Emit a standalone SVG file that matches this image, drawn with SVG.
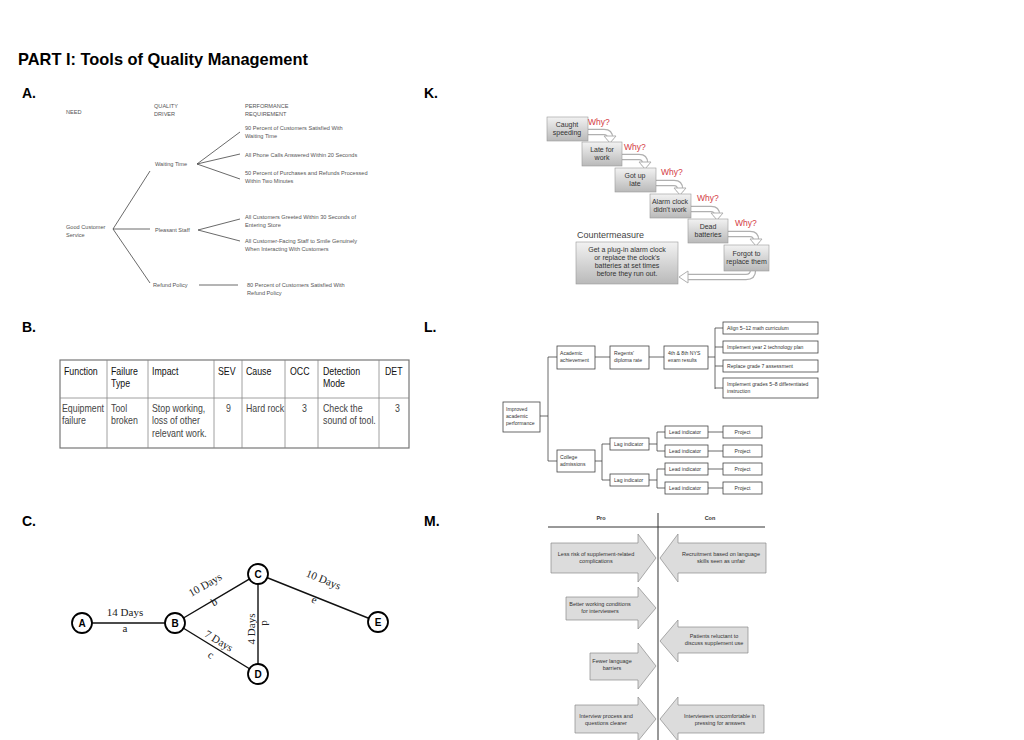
<svg xmlns="http://www.w3.org/2000/svg" width="1024" height="740" viewBox="0 0 1024 740">
<style>
.ttl{font-family:"Liberation Sans",Arial,sans-serif;font-weight:bold;fill:#000}
.sa{font-family:"Liberation Sans",Arial,sans-serif;font-size:5.6px;fill:#555}
.ln{fill:none;stroke:#444;stroke-width:0.8}
.kb{fill:url(#gb);stroke:#999;stroke-width:0.6}
.kt{font-family:"Liberation Sans",Arial,sans-serif;font-size:7px;fill:#333;text-anchor:middle}
.why{font-family:"Liberation Sans",Arial,sans-serif;font-size:8.5px;fill:#d33a3f}
.ao{fill:none;stroke:#b0b0b0;stroke-width:6.5}
.ai{fill:none;stroke:#fff;stroke-width:4}
.ah{fill:#fff;stroke:#b0b0b0;stroke-width:1}
.tb{font-family:"Liberation Sans",Arial,sans-serif;font-size:11px}
.th{fill:#111}
.td{fill:#444}
.lb{fill:#fff;stroke:#444;stroke-width:0.8}
.lt{font-family:"Liberation Sans",Arial,sans-serif;font-size:5.1px;fill:#333}
.ltc{text-anchor:middle}
.cn{fill:#fff;stroke:#000;stroke-width:1.8}
.cl{font-family:"Liberation Sans",Arial,sans-serif;font-weight:bold;font-size:10px;text-anchor:middle;fill:#000}
.cs{font-family:"Liberation Serif","Times New Roman",serif;font-size:11px;fill:#222;text-anchor:middle}
.ce{stroke:#111;stroke-width:1.4;fill:none}
.ma{fill:#dcdcdc;stroke:#8a8a8a;stroke-width:0.7}
.mt{font-family:"Liberation Sans",Arial,sans-serif;font-size:5.5px;fill:#333;text-anchor:middle}
.mh{font-family:"Liberation Sans",Arial,sans-serif;font-size:5.5px;font-weight:bold;fill:#333;text-anchor:middle}
</style>
<defs>
<linearGradient id="gb" x1="0" y1="0" x2="0" y2="1">
<stop offset="0" stop-color="#f2f2f2"/>
<stop offset="1" stop-color="#b9b9b9"/>
</linearGradient>
</defs>
<rect width="1024" height="740" fill="#fff"/>

<text class="ttl" x="18" y="65" font-size="16.4">PART I: Tools of Quality Management</text>
<text class="ttl" x="22" y="98" font-size="14">A.</text>
<text class="ttl" x="424" y="98" font-size="14">K.</text>
<text class="ttl" x="22" y="332" font-size="14">B.</text>
<text class="ttl" x="424" y="332" font-size="14">L.</text>
<text class="ttl" x="22" y="526" font-size="14">C.</text>
<text class="ttl" x="424" y="526" font-size="14">M.</text>

<!-- A: tree -->
<g id="A-connectors">
<path class="ln" d="M113,229 L150,171 M113,229 L150,229 M113,229 L150,283"/>
<path class="ln" d="M197,164 L240,132 M197,164 L240,154 M197,164 L240,179"/>
<path class="ln" d="M198,230 L240,219 M198,230 L240,241"/>
<path class="ln" d="M199,285 L238,285"/>
</g>
<g id="A-headers" class="sa">
<text x="66" y="114">NEED</text>
<text x="154" y="108">QUALITY</text><text x="154" y="116">DRIVER</text>
<text x="245" y="108">PERFORMANCE</text><text x="245" y="116">REQUIREMENT</text>
</g>
<g id="A-need" class="sa"><text x="66" y="229">Good Customer</text><text x="66" y="237">Service</text></g>
<g id="A-waiting" class="sa"><text x="155" y="166">Waiting Time</text></g>
<g id="A-pleasant" class="sa"><text x="155" y="232">Pleasant Staff</text></g>
<g id="A-refund" class="sa"><text x="153" y="287">Refund Policy</text></g>
<g id="A-r1" class="sa"><text x="245" y="130">90 Percent of Customers Satisfied With</text><text x="245" y="138">Waiting Time</text></g>
<g id="A-r2" class="sa"><text x="245" y="157">All Phone Calls Answered Within 20 Seconds</text></g>
<g id="A-r3" class="sa"><text x="245" y="175">50 Percent of Purchases and Refunds Processed</text><text x="245" y="183">Within Two Minutes</text></g>
<g id="A-r4" class="sa"><text x="245" y="219">All Customers Greeted Within 30 Seconds of</text><text x="245" y="227">Entering Store</text></g>
<g id="A-r5" class="sa"><text x="245" y="243">All Customer-Facing Staff to Smile Genuinely</text><text x="245" y="251">When Interacting With Customers</text></g>
<g id="A-r6" class="sa"><text x="247" y="287">80 Percent of Customers Satisfied With</text><text x="247" y="295">Refund Policy</text></g>

<!-- K: 5 whys -->
<g id="K-connectors">
<path class="ao" d="M587,132 H604 Q610,132 610,138 V140"/><path class="ai" d="M587,132 H604 Q610,132 610,138 V140"/>
<polygon class="ah" points="604,136 616,136 610,143"/>
<path class="ao" d="M621,157 H639 Q645,157 645,163 V166"/><path class="ai" d="M621,157 H639 Q645,157 645,163 V166"/>
<polygon class="ah" points="639,162 651,162 645,169"/>
<path class="ao" d="M656,183 H674 Q680,183 680,189 V192"/><path class="ai" d="M656,183 H674 Q680,183 680,189 V192"/>
<polygon class="ah" points="674,188 686,188 680,195"/>
<path class="ao" d="M690,209 H711 Q717,209 717,215 V217"/><path class="ai" d="M690,209 H711 Q717,209 717,215 V217"/>
<polygon class="ah" points="711,213 723,213 717,220"/>
<path class="ao" d="M728,234 H750 Q756,234 756,240 V243"/><path class="ai" d="M728,234 H750 Q756,234 756,240 V243"/>
<polygon class="ah" points="750,239 762,239 756,246"/>
<path class="ao" d="M753,270 Q753,277 746,277 H687"/><path class="ai" d="M753,270 Q753,277 746,277 H687"/>
<polygon class="ah" points="688,271 688,283 679,277"/>
</g>
<g id="K-caught"><rect class="kb" x="547" y="117" width="41" height="24"/><text class="kt" x="567" y="127">Caught</text><text class="kt" x="567" y="135">speeding</text></g>
<g id="K-late"><rect class="kb" x="582" y="142" width="40" height="24"/><text class="kt" x="602" y="152">Late for</text><text class="kt" x="602" y="160">work</text></g>
<g id="K-gotup"><rect class="kb" x="615" y="168" width="41" height="24"/><text class="kt" x="635" y="178">Got up</text><text class="kt" x="635" y="186">late</text></g>
<g id="K-alarm"><rect class="kb" x="650" y="194" width="41" height="24"/><text class="kt" x="670" y="204">Alarm clock</text><text class="kt" x="670" y="212">didn't work</text></g>
<g id="K-dead"><rect class="kb" x="688" y="219" width="40" height="24"/><text class="kt" x="708" y="229">Dead</text><text class="kt" x="708" y="237">batteries</text></g>
<g id="K-forgot"><rect class="kb" x="724" y="245" width="45" height="26"/><text class="kt" x="746.5" y="256">Forgot to</text><text class="kt" x="746.5" y="264">replace them</text></g>
<g id="K-whys" class="why">
<text x="588" y="125">Why?</text>
<text x="624" y="150">Why?</text>
<text x="661" y="175">Why?</text>
<text x="697" y="201">Why?</text>
<text x="735" y="226">Why?</text>
</g>
<g id="K-counter">
<text x="577" y="238" font-family="Liberation Sans, Arial, sans-serif" font-size="9" fill="#444">Countermeasure</text>
<rect class="kb" x="576" y="242" width="102" height="42"/>
<text class="kt" x="627" y="252">Get a plug-in alarm clock</text>
<text class="kt" x="627" y="260">or replace the clock's</text>
<text class="kt" x="627" y="268">batteries at set times</text>
<text class="kt" x="627" y="276">before they run out.</text>
</g>

<!-- B: table -->
<g id="B-table">
<rect x="60" y="360" width="349" height="88" fill="#fff" stroke="#777" stroke-width="1.2"/>
<path d="M60,398 H409 M107,360 V448 M148,360 V448 M214,360 V448 M242,360 V448 M285,360 V448 M318,360 V448 M379,360 V448" stroke="#888" stroke-width="0.8" fill="none"/>
<g class="tb th" transform="scale(0.8 1)">
<text x="80" y="375">Function</text>
<text x="138.75" y="375">Failure</text><text x="138.75" y="387">Type</text>
<text x="190" y="375">Impact</text>
<text x="272.5" y="375">SEV</text>
<text x="307.5" y="375">Cause</text>
<text x="362.5" y="375">OCC</text>
<text x="403.75" y="375">Detection</text><text x="403.75" y="387">Mode</text>
<text x="481.25" y="375">DET</text>
</g>
<g class="tb td" transform="scale(0.8 1)">
<text x="77.5" y="412">Equipment</text><text x="77.5" y="424.5">failure</text>
<text x="138.75" y="412">Tool</text><text x="138.75" y="424.5">broken</text>
<text x="190" y="412">Stop working,</text><text x="190" y="424.5">loss of other</text><text x="190" y="437">relevant work.</text>
<text x="282.5" y="412">9</text>
<text x="307.5" y="412">Hard rock</text>
<text x="377.5" y="412">3</text>
<text x="403.75" y="412">Check the</text><text x="403.75" y="424.5">sound of tool.</text>
<text x="493.75" y="412">3</text>
</g>
</g>

<!-- L: tree -->
<g id="L-connectors" class="ln">
<path d="M540,416 H548 M548,357 V461 M548,357 H557 M548,461 H557"/>
<path d="M595,357 H610 M649,357 H664 M708,357 H715 M715,328 V389 M715,328 H723 M715,347 H723 M715,366 H723 M715,388 H723"/>
<path d="M595,461 H602 M602,444 V480 M602,444 H610 M602,480 H610"/>
<path d="M649,444 H657 M657,432 V451 M657,432 H665 M657,451 H665"/>
<path d="M649,480 H657 M657,469 V488 M657,469 H665 M657,488 H665"/>
<path d="M708,432 H723 M708,451 H723 M708,469 H723 M708,488 H723"/>
</g>
<g id="L-improved"><rect class="lb" x="503" y="402" width="37" height="30"/><text class="lt" x="506" y="411">Improved</text><text class="lt" x="506" y="418">academic</text><text class="lt" x="506" y="425">performance</text></g>
<g id="L-academic"><rect class="lb" x="557" y="346" width="38" height="23"/><text class="lt" x="560" y="355">Academic</text><text class="lt" x="560" y="362">achievement</text></g>
<g id="L-regents"><rect class="lb" x="610" y="346" width="39" height="23"/><text class="lt" x="614" y="355">Regents'</text><text class="lt" x="614" y="362">diploma rate</text></g>
<g id="L-nys"><rect class="lb" x="664" y="346" width="44" height="23"/><text class="lt" x="668" y="355">4th &amp; 8th NYS</text><text class="lt" x="668" y="362">exam results</text></g>
<g id="L-p1"><rect class="lb" x="723" y="322" width="95" height="12"/><text class="lt" x="727" y="330">Align 5–12 math curriculum</text></g>
<g id="L-p2"><rect class="lb" x="723" y="341" width="95" height="12"/><text class="lt" x="727" y="349">Implement year 2 technology plan</text></g>
<g id="L-p3"><rect class="lb" x="723" y="360" width="95" height="12"/><text class="lt" x="727" y="368">Replace grade 7 assessment</text></g>
<g id="L-p4"><rect class="lb" x="723" y="378" width="95" height="20"/><text class="lt" x="727" y="386">Implement grades 5–8 differentiated</text><text class="lt" x="727" y="393">instruction</text></g>
<g id="L-college"><rect class="lb" x="557" y="450" width="38" height="22"/><text class="lt" x="560" y="459">College</text><text class="lt" x="560" y="466">admissions</text></g>
<g id="L-lag1"><rect class="lb" x="610" y="438" width="39" height="12"/><text class="lt" x="614" y="446">Lag indicator</text></g>
<g id="L-lag2"><rect class="lb" x="610" y="474" width="39" height="12"/><text class="lt" x="614" y="482">Lag indicator</text></g>
<g id="L-lead1"><rect class="lb" x="665" y="426" width="43" height="12"/><text class="lt" x="669" y="434">Lead indicator</text></g>
<g id="L-lead2"><rect class="lb" x="665" y="445" width="43" height="12"/><text class="lt" x="669" y="453">Lead indicator</text></g>
<g id="L-lead3"><rect class="lb" x="665" y="463" width="43" height="12"/><text class="lt" x="669" y="471">Lead indicator</text></g>
<g id="L-lead4"><rect class="lb" x="665" y="482" width="43" height="12"/><text class="lt" x="669" y="490">Lead indicator</text></g>
<g id="L-proj1"><rect class="lb" x="723" y="426" width="39" height="12"/><text class="lt ltc" x="742.5" y="434">Project</text></g>
<g id="L-proj2"><rect class="lb" x="723" y="445" width="39" height="12"/><text class="lt ltc" x="742.5" y="453">Project</text></g>
<g id="L-proj3"><rect class="lb" x="723" y="463" width="39" height="12"/><text class="lt ltc" x="742.5" y="471">Project</text></g>
<g id="L-proj4"><rect class="lb" x="723" y="482" width="39" height="12"/><text class="lt ltc" x="742.5" y="490">Project</text></g>

<!-- C: network -->
<g id="C-connectors">
<path class="ce" d="M82,623 L175,623 M175,623 L258,574 M258,574 L378,622 M175,623 L258,674 M258,574 L258,674"/>
<text class="cs" x="125" y="616">14 Days</text>
<text class="cs" x="125" y="632">a</text>
<text class="cs" transform="translate(207,588) rotate(-30)">10 Days</text>
<text class="cs" transform="translate(216,605) rotate(-30)">b</text>
<text class="cs" transform="translate(322,583) rotate(22)">10 Days</text>
<text class="cs" transform="translate(313,603) rotate(22)">e</text>
<text class="cs" transform="translate(217,644) rotate(31)">7 Days</text>
<text class="cs" transform="translate(209,658) rotate(31)">c</text>
<text class="cs" transform="translate(255,629) rotate(-90)">4 Days</text>
<text class="cs" transform="translate(262,623) rotate(90)">d</text>
</g>
<g id="C-A"><circle class="cn" cx="82" cy="623" r="10"/><text class="cl" x="82" y="626.6">A</text></g>
<g id="C-B"><circle class="cn" cx="175" cy="623" r="10"/><text class="cl" x="175" y="626.6">B</text></g>
<g id="C-C"><circle class="cn" cx="258" cy="574" r="10"/><text class="cl" x="258" y="577.6">C</text></g>
<g id="C-D"><circle class="cn" cx="258" cy="674" r="10"/><text class="cl" x="258" y="677.6">D</text></g>
<g id="C-E"><circle class="cn" cx="378" cy="622" r="10"/><text class="cl" x="378" y="625.6">E</text></g>

<!-- M: pro / con -->
<g id="M-axes">
<text class="mh" x="601" y="520">Pro</text>
<text class="mh" x="710" y="520">Con</text>
<path d="M548,527 H765 M658,513 V740" stroke="#333" stroke-width="1" fill="none"/>
</g>
<g id="M-pro1"><polygon class="ma" points="551,543 638,543 638,534 656,558 638,582 638,573 551,573"/><text class="mt" x="596" y="556">Less risk of supplement-related</text><text class="mt" x="596" y="563">complications</text></g>
<g id="M-con1"><polygon class="ma" points="766,543 678,543 678,534 660,558 678,582 678,573 766,573"/><text class="mt" x="721" y="556">Recruitment based on language</text><text class="mt" x="721" y="563">skills seen as unfair</text></g>
<g id="M-pro2"><polygon class="ma" points="566,597 638,597 638,587 656,608 638,629 638,620 566,620"/><text class="mt" x="600" y="606">Better working conditions</text><text class="mt" x="600" y="613">for interviewers</text></g>
<g id="M-con2"><polygon class="ma" points="748,627 678,627 678,620 660,641 678,662 678,653 748,653"/><text class="mt" x="714" y="638">Patients reluctant to</text><text class="mt" x="714" y="645">discuss supplement use</text></g>
<g id="M-pro3"><polygon class="ma" points="590,653 638,653 638,643 656,666 638,689 638,680 590,680"/><text class="mt" x="612" y="663">Fewer language</text><text class="mt" x="612" y="670">barriers</text></g>
<g id="M-pro4"><polygon class="ma" points="575,705 638,705 638,697 656,719 638,741 638,733 575,733"/><text class="mt" x="606" y="718">Interview process and</text><text class="mt" x="606" y="725">questions clearer</text></g>
<g id="M-con4"><polygon class="ma" points="764,705 678,705 678,697 660,719 678,741 678,733 764,733"/><text class="mt" x="720" y="718">Interviewers uncomfortable in</text><text class="mt" x="720" y="725">pressing for answers</text></g>
</svg>
